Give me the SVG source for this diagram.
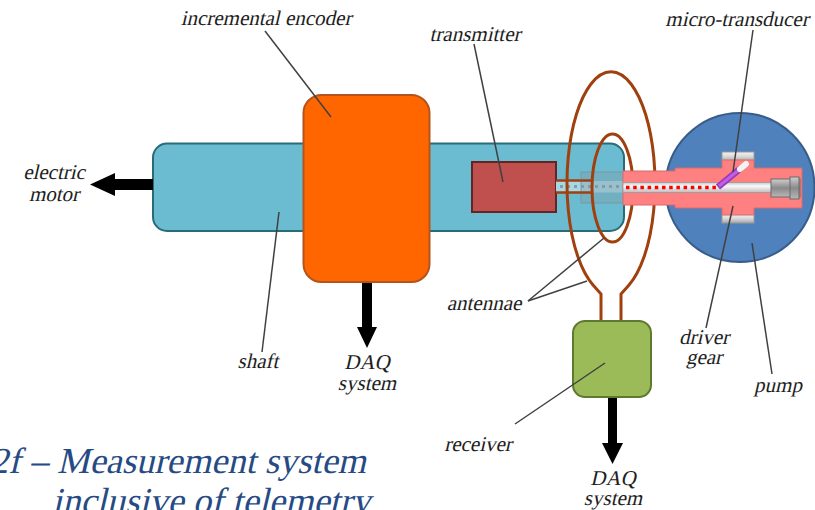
<svg xmlns="http://www.w3.org/2000/svg" width="815" height="510" viewBox="0 0 815 510">
  <defs>
    <style>
      .lbl { font-family: 'Liberation Serif', 'Times New Roman', serif; font-size: 21px; fill: #1e1e1e; text-anchor: middle; }
      .cap { font-family: 'Liberation Serif', 'Times New Roman', serif; font-size: 36.5px; fill: #264b84; }
      .leader { stroke: #404040; stroke-width: 1.5; fill: none; }
      .ant { stroke: #a0400f; stroke-width: 3; fill: none; }
      .blk { fill: #000; }
    </style>
    <linearGradient id="metal" x1="0" y1="0" x2="0" y2="1">
      <stop offset="0" stop-color="#f4f4f4"/>
      <stop offset="0.5" stop-color="#d8d8d8"/>
      <stop offset="1" stop-color="#a8a8a8"/>
    </linearGradient>
    <linearGradient id="bore" x1="0" y1="0" x2="0" y2="1">
      <stop offset="0" stop-color="#c8c8c8"/>
      <stop offset="0.35" stop-color="#fafafa"/>
      <stop offset="1" stop-color="#bdbdbd"/>
    </linearGradient>
    <linearGradient id="plug" x1="0" y1="0" x2="0" y2="1">
      <stop offset="0" stop-color="#cfcfcf"/>
      <stop offset="0.5" stop-color="#8a8a8a"/>
      <stop offset="1" stop-color="#b8b8b8"/>
    </linearGradient>
  </defs>

  <!-- shaft -->
  <g id="shaft">
    <rect x="153" y="143.5" width="471" height="87.5" rx="14" fill="#6bbcd0" stroke="#2a6b7a" stroke-width="2"/>
  </g>

  <!-- incremental encoder -->
  <g id="encoder">
    <rect x="303.5" y="95" width="126" height="187" rx="18" fill="#ff6600" stroke="#b3541e" stroke-width="2"/>
  </g>

  <!-- transmitter and rod -->
  <g id="transmitter">
    <rect x="472" y="162" width="84" height="50" fill="#c0504d" stroke="#632523" stroke-width="2"/>
    <rect x="556" y="181" width="68" height="11.5" fill="#a7d8e4"/>
    <line x1="560" y1="186.5" x2="624" y2="186.5" stroke="#8c9aa6" stroke-width="3" stroke-dasharray="3 4"/>
    <rect x="581" y="172" width="44" height="31" fill="#7e98a6" fill-opacity="0.35" stroke="#7d97a3" stroke-width="1"/>
  </g>

  <!-- pump -->
  <g id="pump">
    <circle cx="740" cy="187.5" r="74.5" fill="#4f81bd" stroke="#385d8a" stroke-width="2"/>
  </g>

  <!-- antennae -->
  <g id="antennae">
    <path class="ant" d="M601 321 L601 294 L593 285 A44 111.5 0 1 1 629 285 L621 294 L621 321"/>
    <ellipse class="ant" cx="612.5" cy="188" rx="20.5" ry="54"/>
    <line x1="556" y1="180.5" x2="593" y2="180.5" stroke="#a0400f" stroke-width="2.5"/>
    <line x1="556" y1="192.5" x2="593" y2="192.5" stroke="#a0400f" stroke-width="2.5"/>
  </g>

  <!-- driver gear housing with bore and micro-transducer -->
  <g id="driver-gear">
    <rect x="722" y="152" width="32" height="9" fill="url(#metal)" stroke="#9a9a9a" stroke-width="1"/>
    <rect x="722" y="214" width="32" height="9" fill="url(#metal)" stroke="#9a9a9a" stroke-width="1"/>
    <path d="M623 171 L675 171 L675 168 L722 168 L722 160 L754 160 L754 168 L802 168 L802 208 L754 208 L754 215 L722 215 L722 208 L675 208 L675 205 L623 205 Z" fill="#ff8080" stroke="#d86a6a" stroke-width="1"/>
    <rect x="623" y="182.5" width="150" height="10" fill="url(#bore)" stroke="#9a9a9a" stroke-width="0.8"/>
    <rect x="771" y="179" width="29" height="18" fill="url(#plug)" stroke="#6a6a6a" stroke-width="1"/>
    <rect x="790" y="177" width="9" height="22" fill="url(#plug)" stroke="#6a6a6a" stroke-width="1"/>
    <line x1="626" y1="187.5" x2="718" y2="187.5" stroke="#ff0000" stroke-width="3.5" stroke-dasharray="3.5 3.7"/>
  </g>
  <g id="micro-transducer">
    <line x1="718" y1="187" x2="741" y2="168" stroke="#9b36b8" stroke-width="6.5"/>
    <line x1="719" y1="186" x2="740" y2="169" stroke="#c060e0" stroke-width="3"/>
    <line x1="740" y1="169" x2="746" y2="164" stroke="#f2f2f2" stroke-width="6" stroke-linecap="round"/>
  </g>

  <!-- receiver -->
  <g id="receiver">
    <rect x="573" y="321" width="78" height="76" rx="12" fill="#9bbb59" stroke="#5e7a2e" stroke-width="2"/>
  </g>

  <!-- outputs and leader lines -->
  <g id="connectors">
    <polygon class="blk" points="153,179 115,179 115,173 90,184.5 115,196 115,190 153,190"/>
    <polygon class="blk" points="362,283 372,283 372,327 377,327 367,348 357,327 362,327"/>
    <polygon class="blk" points="608,398 617,398 617,443 623,443 612.5,464 602,443 608,443"/>

    <line class="leader" x1="265" y1="31" x2="331" y2="117"/>
    <line class="leader" x1="474" y1="44" x2="503" y2="182"/>
    <line class="leader" x1="753" y1="30" x2="733" y2="172"/>
    <line class="leader" x1="528" y1="301" x2="604" y2="238"/>
    <line class="leader" x1="528" y1="301" x2="587" y2="281"/>
    <line class="leader" x1="262" y1="352" x2="279" y2="212"/>
    <line class="leader" x1="706" y1="328" x2="733" y2="206"/>
    <line class="leader" x1="772" y1="374" x2="752" y2="243"/>
    <line class="leader" x1="515" y1="424" x2="605" y2="363"/>
  </g>

  <!-- labels (slanted serif) -->
  <g id="labels">
    <text class="lbl" transform="translate(266 25) skewX(-13)">incremental encoder</text>
    <text class="lbl" transform="translate(475 41) skewX(-13)">transmitter</text>
    <text class="lbl" transform="translate(737 26) skewX(-13)">micro-transducer</text>
    <text class="lbl" transform="translate(54 179) skewX(-13)">electric</text>
    <text class="lbl" transform="translate(54 201) skewX(-13)">motor</text>
    <text class="lbl" transform="translate(484 310) skewX(-13)">antennae</text>
    <text class="lbl" transform="translate(258 368) skewX(-13)">shaft</text>
    <text class="lbl" transform="translate(367 369) skewX(-13)">DAQ</text>
    <text class="lbl" transform="translate(367 390) skewX(-13)">system</text>
    <text class="lbl" transform="translate(704 344) skewX(-13)">driver</text>
    <text class="lbl" transform="translate(704 364) skewX(-13)">gear</text>
    <text class="lbl" transform="translate(778 392) skewX(-13)">pump</text>
    <text class="lbl" transform="translate(478 451) skewX(-13)">receiver</text>
    <text class="lbl" transform="translate(613 485) skewX(-13)">DAQ</text>
    <text class="lbl" transform="translate(613 505) skewX(-13)">system</text>
  </g>

  <!-- caption -->
  <g id="caption">
    <text class="cap" text-anchor="end" transform="translate(366 473) skewX(-13)">2f – Measurement system</text>
    <text class="cap" transform="translate(52 513) skewX(-13)">inclusive of telemetry</text>
  </g>
</svg>
